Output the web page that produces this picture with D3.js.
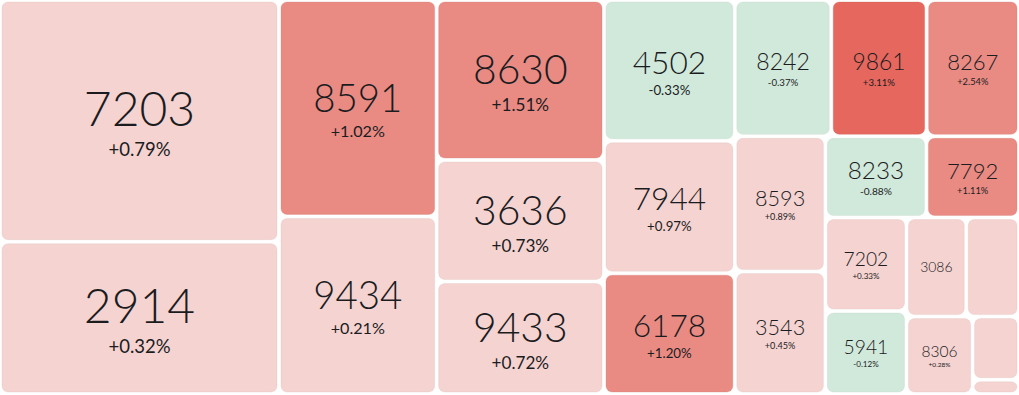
<!DOCTYPE html>
<html>
<head>
<meta charset="utf-8">
<script src="https://cdn.jsdelivr.net/npm/d3@7"></script>
<style>
  body { margin: 0; background: #fff; }
  text { font-family: Lato, "Open Sans", sans-serif; fill: #1b1c1f; }
</style>
</head>
<body>
<div id="chart"></div>
<script>
let svgWidth = 1019;
let svgHeight = 395;

// tile data (price label, % change, tile weight read from tile areas)
let prices  = [7203, 2914, 8591, 9434, 8630, 3636, 9433, 4502, 7944, 6178, 8242, 9861,
               8267, 8593, 3543, 8233, 7792, 7202, 5941, 3086, null, 8306, null, null];
let changes = [0.79, 0.32, 1.02, 0.21, 1.51, 0.73, 0.72, -0.33, 0.97, 1.20, -0.37, 3.11,
               2.54, 0.89, 0.45, -0.88, 1.11, 0.33, -0.12, 0.50, 0.50, 0.28, 0.50, 0.50];
let weights = [67000, 42200, 33900, 27800, 26600, 20200, 18700, 18300, 17200, 15700, 13060, 12920,
               12510, 12170, 11010, 8150, 7470, 7530, 6680, 5880, 5190, 5080, 2910, 660];

// nesting of the tiles: "h" = side by side, "v" = stacked
let layout = ["h", ["v", 0, 1], ["v", 2, 3], ["v", 4, 5, 6], ["v", 7, 8, 9],
    ["v", ["h", 10, 11, 12],
          ["h", ["v", 13, 14],
                ["v", ["h", 15, 16],
                      ["h", ["v", 17, 18],
                            ["v", ["h", 19, 20], ["h", 21, ["v", 22, 23]]]]]]]];

function build(spec) {
    if (typeof spec === "number") return {i: spec};
    return {dir: spec[0], children: spec.slice(1).map(build)};
}

let root = d3.hierarchy(build(layout))
    .sum(d => d.i !== undefined ? weights[d.i] : 0);

d3.treemap()
    .size([1015, 390])
    .paddingInner(4)
    .tile((node, x0, y0, x1, y1) => {
        if (node.data.dir === "h") d3.treemapDice(node, x0, y0, x1, y1);
        else d3.treemapSlice(node, x0, y0, x1, y1);
    })(root);

let color = d3.scaleThreshold()
    .domain([0, 1, 3])
    .range(["#d1e9da", "#f5d3d0", "#e98b83", "#e5675d"]);

let svg = d3.select("#chart")
    .append("svg")
    .attr("width", svgWidth)
    .attr("height", svgHeight);

let chartGroup = svg.append("g")
    .attr("transform", "translate(2, 2)");

let cells = chartGroup.selectAll("g")
    .data(root.leaves())
    .enter()
    .append("g");

cells.append("rect")
    .attr("x", d => d.x0)
    .attr("y", d => d.y0)
    .attr("width", d => d.x1 - d.x0)
    .attr("height", d => d.y1 - d.y0)
    .attr("rx", 6)
    .attr("fill", d => color(changes[d.data.i]))
    .attr("stroke", d => d3.color(color(changes[d.data.i])).darker(0.3))
    .attr("stroke-opacity", 0.35)
    .attr("stroke-width", 0.8);

cells.each(function(d) {
    let i = d.data.i;
    let w = d.x1 - d.x0;
    if (prices[i] === null || w < 50) return;
    let F = Math.min(48, w * 0.25);
    let Fc = Math.min(18.5, F * 0.42);
    let cx = (d.x0 + d.x1) / 2;
    let cy = (d.y0 + d.y1) / 2;
    let g = d3.select(this);
    if (w < 60) {
        g.append("text")
            .attr("x", cx).attr("y", cy + 0.36 * F)
            .attr("text-anchor", "middle")
            .attr("font-size", F)
            .attr("font-weight", 300)
            .text(prices[i]);
        return;
    }
    let base = cy + 0.1 * F;
    g.append("text")
        .attr("x", cx).attr("y", base)
        .attr("text-anchor", "middle")
        .attr("font-size", F)
        .attr("font-weight", 300)
        .text(prices[i]);
    g.append("text")
        .attr("x", cx).attr("y", base + 0.24 * F + Fc)
        .attr("text-anchor", "middle")
        .attr("font-size", Fc)
        .text((changes[i] > 0 ? "+" : "") + changes[i].toFixed(2) + "%");
});
</script>
</body>
</html>
